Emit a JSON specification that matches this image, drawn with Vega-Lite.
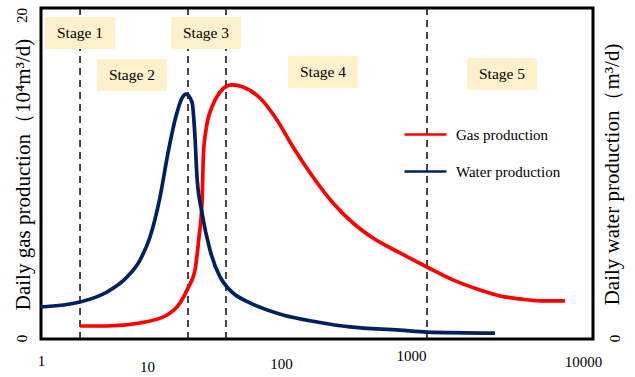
{
  "$schema": "https://vega.github.io/schema/vega-lite/v6.json",
  "width": 552,
  "height": 331,
  "autosize": {"type": "none"},
  "padding": {"left": 41, "top": 8, "right": 42, "bottom": 38},
  "config": {
    "view": {"stroke": "black", "strokeWidth": 3},
    "font": "Liberation Serif",
    "axis": {"labelFont": "Liberation Serif", "titleFont": "Liberation Serif", "labelColor": "black", "titleColor": "black", "titleFontWeight": "normal", "grid": false, "ticks": false, "domain": false}
  },
  "datasets": {
    "stages": [
      {"stage": "Stage 1", "x": 1.918, "y": 18.49},
      {"stage": "Stage 2", "x": 4.56, "y": 15.95},
      {"stage": "Stage 3", "x": 15.69, "y": 18.49},
      {"stage": "Stage 4", "x": 110.5, "y": 16.13},
      {"stage": "Stage 5", "x": 2190, "y": 16.01}
    ],
    "boundaries": [
      {"x": 1.918}, {"x": 11.62}, {"x": 21.9}, {"x": 626.8}
    ],
    "gas": [
      {"x": 1.918, "y": 0.785},
      {"x": 3.008, "y": 0.785},
      {"x": 5.217, "y": 0.967},
      {"x": 8.185, "y": 1.45},
      {"x": 10.17, "y": 2.175},
      {"x": 11.62, "y": 3.082},
      {"x": 13.06, "y": 4.169},
      {"x": 13.96, "y": 6.163},
      {"x": 14.68, "y": 8.218},
      {"x": 15.05, "y": 11.24},
      {"x": 15.69, "y": 12.63},
      {"x": 17.34, "y": 14.02},
      {"x": 19.82, "y": 14.92},
      {"x": 22.27, "y": 15.29},
      {"x": 24.22, "y": 15.35},
      {"x": 29.1, "y": 15.23},
      {"x": 38.63, "y": 14.56},
      {"x": 51.31, "y": 13.23},
      {"x": 67.0, "y": 11.6},
      {"x": 93.55, "y": 9.79},
      {"x": 130.6, "y": 8.22},
      {"x": 182.4, "y": 7.01},
      {"x": 254.6, "y": 6.1},
      {"x": 399.4, "y": 5.2},
      {"x": 626.8, "y": 4.35},
      {"x": 967.2, "y": 3.57},
      {"x": 1518, "y": 2.96},
      {"x": 2119, "y": 2.6},
      {"x": 2958, "y": 2.42},
      {"x": 4129, "y": 2.3},
      {"x": 6268, "y": 2.3}
    ],
    "water": [
      {"x": 1.0, "y": 1.934},
      {"x": 1.918, "y": 2.236},
      {"x": 3.008, "y": 2.84},
      {"x": 4.2, "y": 3.746},
      {"x": 5.217, "y": 4.773},
      {"x": 6.165, "y": 6.163},
      {"x": 7.284, "y": 8.58},
      {"x": 8.324, "y": 11.24},
      {"x": 9.355, "y": 13.23},
      {"x": 10.51, "y": 14.56},
      {"x": 11.24, "y": 14.8},
      {"x": 12.42, "y": 14.32},
      {"x": 13.06, "y": 12.2},
      {"x": 13.5, "y": 9.79},
      {"x": 14.68, "y": 7.61},
      {"x": 16.77, "y": 5.38},
      {"x": 19.82, "y": 3.75},
      {"x": 22.27, "y": 3.14},
      {"x": 24.62, "y": 2.78},
      {"x": 32.7, "y": 2.18},
      {"x": 56.7, "y": 1.45},
      {"x": 100, "y": 1.03},
      {"x": 173.4, "y": 0.73},
      {"x": 399.4, "y": 0.54},
      {"x": 626.8, "y": 0.42},
      {"x": 1950, "y": 0.36}
    ]
  },
  "layer": [
    {
      "layer": [
        {
          "data": {"name": "boundaries"},
          "mark": {"type": "rule", "strokeDash": [7, 5], "strokeWidth": 1.6, "color": "#1a1a1a"},
          "encoding": {
            "x": {"field": "x", "type": "quantitative", "scale": {"type": "log", "domain": [1, 10000]},
              "axis": {
                "values": [1, 10, 100, 1000, 10000], "format": "d", "title": null,
                "labelFontSize": 15, "labelFlush": false, "labelOverlap": false, "labelBound": false,
                "labelOffset": {"condition": [
                  {"test": "datum.value > 5 && datum.value < 50", "value": -32},
                  {"test": "datum.value > 50 && datum.value < 500", "value": -36},
                  {"test": "datum.value > 500 && datum.value < 5000", "value": -44},
                  {"test": "datum.value > 5000", "value": -10}
                ], "value": 0},
                "labelPadding": {"condition": [
                  {"test": "datum.value > 5 && datum.value < 50", "value": 20},
                  {"test": "datum.value > 50 && datum.value < 500", "value": 17},
                  {"test": "datum.value > 500 && datum.value < 5000", "value": 9},
                  {"test": "datum.value > 5000", "value": 15}
                ], "value": 14}
              }
            }
          }
        },
        {
          "data": {"name": "stages"},
          "mark": {"type": "point", "shape": "M-1,-0.457H1V0.457H-1Z", "size": 4900, "filled": true, "color": "#FDF0CB", "opacity": 1, "strokeWidth": 0},
          "encoding": {
            "x": {"field": "x", "type": "quantitative"},
            "y": {"field": "y", "type": "quantitative", "scale": {"domain": [0, 20], "nice": false},
              "axis": {
                "values": [0, 20], "title": "Daily gas production（10⁴m³/d)",
                "labelAngle": -90, "labelAlign": "center", "labelBaseline": "bottom", "labelPadding": 12, "labelFontSize": 15,
                "labelFlush": false, "labelOverlap": false,
                "labelOffset": {"condition": {"test": "datum.value > 10", "value": 7}, "value": -1},
                "titleFontSize": 21, "titleAngle": -90, "titleX": -18, "titleY": 166, "titleAlign": "center", "titleBaseline": "middle"
              }
            }
          }
        },
        {
          "data": {"name": "stages"},
          "mark": {"type": "text", "fontSize": 15.5, "font": "Liberation Serif", "color": "black", "align": "center", "baseline": "middle"},
          "encoding": {
            "x": {"field": "x", "type": "quantitative"},
            "y": {"field": "y", "type": "quantitative"},
            "text": {"field": "stage"}
          }
        },
        {
          "data": {"name": "gas"},
          "mark": {"type": "line", "interpolate": "monotone", "strokeWidth": 3.7},
          "encoding": {
            "x": {"field": "x", "type": "quantitative"},
            "y": {"field": "y", "type": "quantitative"},
            "color": {"datum": "Gas production", "type": "nominal",
              "scale": {"domain": ["Gas production", "Water production"], "range": ["#FF0000", "#002060"]},
              "legend": {"orient": "none", "legendX": 362, "legendY": 104, "title": null, "symbolType": "stroke", "symbolSize": 1764, "symbolStrokeWidth": 2.5, "labelFont": "Liberation Serif", "labelFontSize": 15, "labelColor": "black", "labelOffset": 8, "rowPadding": 6, "padding": 0}
            }
          }
        }
      ]
    },
    {
      "data": {"name": "water"},
      "mark": {"type": "line", "interpolate": "monotone", "strokeWidth": 3.7},
      "encoding": {
        "x": {"field": "x", "type": "quantitative"},
        "y": {"field": "y", "type": "quantitative", "scale": {"domain": [0, 20], "nice": false},
          "axis": {
            "orient": "right", "values": [0], "title": "Daily water production（m³/d)",
            "labelAngle": -90, "labelAlign": "center", "labelBaseline": "top", "labelPadding": 14, "labelFontSize": 15,
            "labelFlush": false, "labelOverlap": false, "labelOffset": -1,
            "titleFontSize": 21, "titleAngle": -90, "titleX": 19, "titleY": 166, "titleAlign": "center", "titleBaseline": "middle"
          }
        },
        "color": {"datum": "Water production", "type": "nominal"}
      }
    }
  ],
  "resolve": {"scale": {"y": "independent"}}
}
